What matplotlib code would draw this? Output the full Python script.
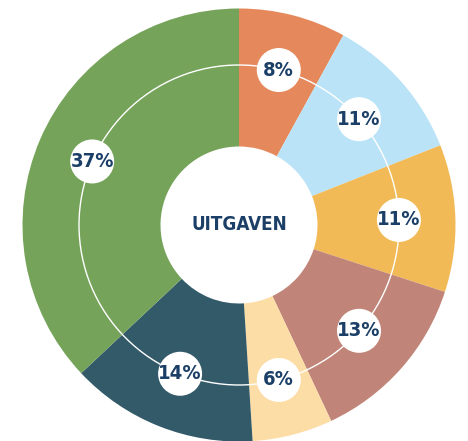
import numpy as np
import matplotlib.pyplot as plt
from matplotlib.patches import Circle

labels = ["8%", "11%", "11%", "13%", "6%", "14%", "37%"]
shares = [8, 11, 11, 13, 6, 14, 37]
colors = ["#E5895C", "#BAE3F7", "#F2BA57", "#C08478", "#FDDDA6", "#325A69", "#75A35A"]
center_text = "UITGAVEN"

navy = "#1B3F66"
plt.rcParams["font.family"] = ["DejaVu Sans"]
plt.rcParams["font.stretch"] = "condensed"

fig = plt.figure(figsize=(4.68, 4.41), dpi=100)
ax = fig.add_axes([0, 0, 1, 1])

cx, cy = 239, 216
r_out = 216.5
r_in = 78.5
r_ring = 160

wedges, _ = ax.pie(shares, colors=colors, startangle=90, counterclock=False,
                   center=(cx, cy), radius=r_out, frame=True,
                   wedgeprops=dict(width=r_out - r_in, linewidth=0))
ax.set_xlim(0, 468)
ax.set_ylim(0, 441)
ax.set_aspect("equal")
ax.axis("off")

# thin white ring through the labels
ax.add_patch(Circle((cx, cy), r_ring, fill=False, edgecolor="white", linewidth=1.0, zorder=3))

for w, lab in zip(wedges, labels):
    ang = np.deg2rad((w.theta1 + w.theta2) / 2)
    x = cx + r_ring * np.cos(ang)
    y = cy + r_ring * np.sin(ang)
    ax.add_patch(Circle((x, y), 22, facecolor="white", edgecolor="none", zorder=4))
    ax.text(x, y, lab, ha="center", va="center", color=navy, fontsize=14.5,
            fontweight="bold", fontstretch="condensed", zorder=5)

ax.text(cx, cy + 1, center_text, ha="center", va="center", color=navy,
        fontsize=13.5, fontweight="bold", fontstretch="condensed")

fig.savefig("out.png", dpi=100)
